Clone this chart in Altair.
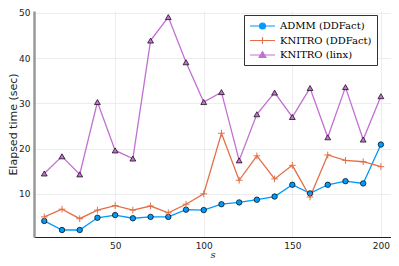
import altair as alt
import pandas as pd

s_vals = [10, 20, 30, 40, 50, 60, 70, 80, 90, 100, 110, 120, 130, 140, 150, 160, 170, 180, 190, 200]
admm = [4.0, 2.0, 2.0, 4.7, 5.3, 4.6, 4.9, 4.9, 6.5, 6.4, 7.7, 8.1, 8.7, 9.4, 12.0, 10.1, 12.0, 12.8, 12.3, 20.9]
knitro_dd = [4.9, 6.6, 4.5, 6.4, 7.4, 6.4, 7.3, 5.8, 7.7, 10.0, 23.4, 13.0, 18.4, 13.3, 16.3, 9.3, 18.6, 17.4, 17.1, 16.0]
knitro_linx = [14.5, 18.3, 14.3, 30.3, 19.6, 17.8, 43.9, 49.1, 39.1, 30.3, 32.5, 17.4, 27.6, 32.4, 27.0, 33.4, 22.5, 33.6, 22.0, 31.6]

series_names = ["ADMM (DDFact)", "KNITRO (DDFact)", "KNITRO (linx)"]
colors = ["#009AFA", "#E36F47", "#C271D2"]
x_ticks = [50, 100, 150, 200]
y_ticks = [10, 20, 30, 40, 50]

rows = []
for name, vals in zip(series_names, [admm, knitro_dd, knitro_linx]):
    for s, v in zip(s_vals, vals):
        rows.append({"s": s, "value": v, "series": name})
df = pd.DataFrame(rows)

xs = alt.Scale(domain=[4.2, 205.7], nice=False, zero=False)
ys = alt.Scale(domain=[0.45, 50.44], nice=False, zero=False)

X = alt.X("s:Q", scale=xs, axis=alt.Axis(values=x_ticks, title="s"))
Y = alt.Y("value:Q", scale=ys, axis=alt.Axis(values=y_ticks, title="Elapsed time (sec)"))

base = alt.Chart(df)

def sub(i):
    return base.transform_filter(alt.datum.series == series_names[i])

line_layers = [sub(i).mark_line(strokeWidth=1.3, color=colors[i]).encode(x=X, y=Y) for i in range(3)]

circ = sub(0).mark_point(
    shape="circle", filled=True, size=30, fill=colors[0], stroke="black", strokeWidth=0.7, opacity=1
).encode(x=X, y=Y)

cross = sub(1).mark_point(
    shape="M-1,0H1M0,-1V1", filled=False, size=45, stroke=colors[1], strokeWidth=1.0, opacity=1
).encode(x=X, y=Y)

tri = sub(2).mark_point(
    shape="triangle-up", filled=True, size=34, fill=colors[2], stroke="black", strokeWidth=0.7, opacity=1
).encode(x=X, y=Y)

leg_shapes = [
    "M-1,0H4M2.1,0A0.6,0.6 0 1,1 0.9,0A0.6,0.6 0 1,1 2.1,0Z",
    "M-1,0H4M1.5,-0.7V0.7",
    "M-1,0H4M1.5,-0.7L2.2,0.5L0.8,0.5Z",
]
legend = alt.Legend(
    title=None, orient="none", legendX=210, legendY=4, padding=5,
    strokeColor="#333", fillColor="white", cornerRadius=0,
    labelFont="DejaVu Serif", labelFontSize=10, labelColor="black",
    symbolSize=100, symbolStrokeWidth=1.1, symbolOpacity=1, rowPadding=2.5, labelOffset=19,
)
leg = base.mark_point(filled=True, opacity=0).encode(
    x=X, y=Y,
    stroke=alt.Stroke("series:N", scale=alt.Scale(domain=series_names, range=colors), legend=legend),
    fill=alt.Fill("series:N", scale=alt.Scale(domain=series_names, range=colors), legend=legend),
    shape=alt.Shape("series:N", scale=alt.Scale(domain=series_names, range=leg_shapes), legend=legend),
)

chart = alt.layer(*line_layers, circ, cross, tri, leg).properties(
    width=357, height=226,
    autosize=alt.AutoSizeParams(type="none"),
    padding={"left": 26, "top": 3, "right": 0, "bottom": 21},
).configure_view(stroke=None).configure_axis(
    grid=True, gridColor="#e8e8e8", gridWidth=0.8, ticks=False,
    labelFont="DejaVu Sans", labelFontSize=9, labelColor="#222", labelPadding=4,
    titleFontWeight="normal", titleColor="#222",
).configure_axisX(
    domainColor="#222", domainWidth=1,
    titleFont="DejaVu Serif", titleFontStyle="italic", titleFontSize=10,
    titleY=17, titleBaseline="middle",
).configure_axisY(
    domainColor="#999", domainWidth=2.5,
    titleFont="DejaVu Sans", titleFontSize=11, titleX=-21, titleY=113,
    titleBaseline="middle", titleAlign="center", titleAngle=-90,
)

chart.save("out.html", embed_options={"renderer": "svg", "actions": False})
